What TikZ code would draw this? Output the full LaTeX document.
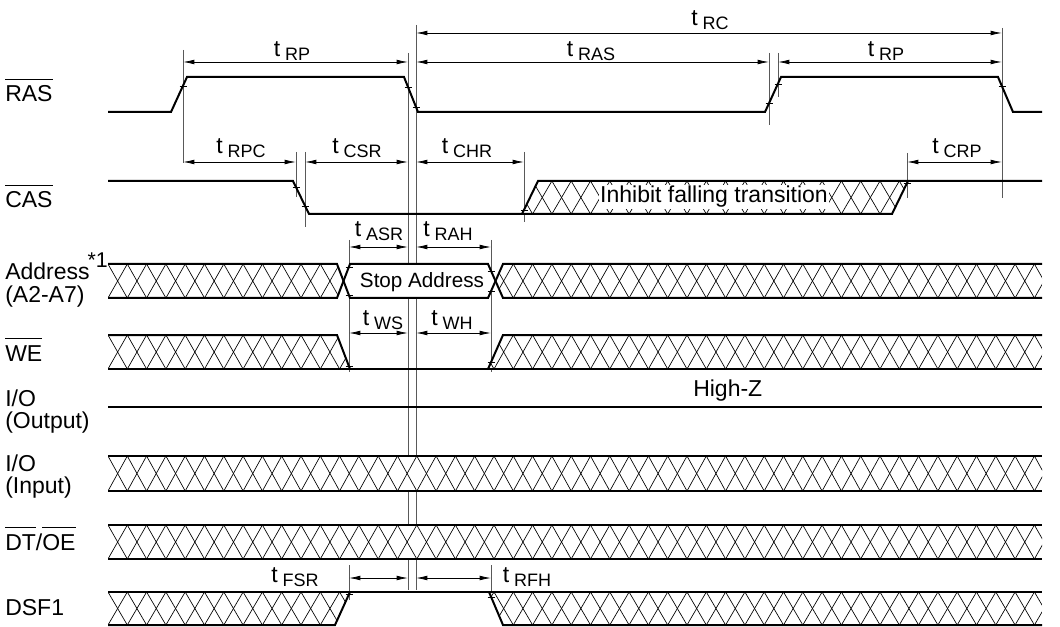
\documentclass[tikz,border=0pt]{standalone}
\usepackage{fontspec}
\setmainfont{Liberation Sans}
\usetikzlibrary{arrows.meta}
\newcommand{\tsub}[1]{t\hspace{3.5pt}\raisebox{-3pt}{\fontsize{13.5pt}{14pt}\selectfont #1}}
\newcommand{\ovl}[1]{\vbox{\hrule height 0.9pt\kern 4.5pt\hbox{#1}}}
\newcommand{\hatchband}[3]{%
  \fill[white] #1;
  \begin{scope}
    \clip #1;
    \foreach \k in {0,...,48}{
      \draw[hatchln] ({108+\k*19.3},#2) -- ({108+(\k+1)*19.3},#3);
      \draw[hatchln] ({108+\k*19.3},#3) -- ({108+(\k+1)*19.3},#2);
    }
  \end{scope}}
\newcommand{\tk}[2]{\draw[tickln] ({#1-3.5},#2) -- ({#1+3.5},#2);}
\begin{document}
\begin{tikzpicture}[x=0.75pt,y=-0.75pt,
  font=\fontsize{17.25pt}{20pt}\selectfont,
  wave/.style={line width=1.5pt, line join=miter, line cap=butt},
  hatchln/.style={line width=0.5pt},
  tl/.style={line width=0.7pt, black!65},
  tickln/.style={line width=0.6pt},
  dim/.style={line width=0.6pt, {Latex[length=8.5pt,width=3.5pt]}-{Latex[length=8.5pt,width=3.5pt]}},
  sig/.style={anchor=base west, inner sep=0pt},
  lbl/.style={inner sep=0pt}]
\useasboundingbox (0,0) rectangle (1060,627);

% ---- timing reference lines
\draw[tl] (183,50) -- (183,163);
\draw[tl] (408,53) -- (408,590);
\draw[tl] (416,25) -- (416,590);
\draw[tl] (769,53) -- (769,125);
\draw[tl] (778,53) -- (778,97);
\draw[tl] (1002,28) -- (1002,198);
\draw[tl] (296,152) -- (296,197);
\draw[tl] (305,152) -- (305,227);
\draw[tl] (524,152) -- (524,222);
\draw[tl] (907,153) -- (907,198);
\draw[tl] (349,240) -- (349,372);
\draw[tl] (491,240) -- (491,372);
\draw[tl] (349,565) -- (349,600);
\draw[tl] (491,565) -- (491,600);

% ---- signal names
\node[sig] (nRAS) at (5,102) {\ovl{RAS}};
\node[sig] (nCAS) at (5,208) {\ovl{CAS}};
\node[sig] (nAddr) at (5,280) {Address\hspace{-1.5pt}\raisebox{9.5pt}{\fontsize{16pt}{16pt}\selectfont *1}};
\node[sig] (nAddr2) at (5,302) {(A2-A7)};
\node[sig] (nWE) at (5,361) {\ovl{WE}};
\node[sig] (nIO1) at (5,406) {I/O};
\node[sig] (nIO1b) at (5,428) {(Output)};
\node[sig] (nIO2) at (5,471) {I/O};
\node[sig] (nIO2b) at (5,493) {(Input)};
\node[sig] (nDT) at (5,550) {\ovl{DT}/\ovl{OE}};
\node[sig] (nDSF) at (5,615) {DSF1};

% ---- RAS
\draw[wave] (108,112) -- (171,112) -- (187,77) -- (404,77) -- (418,112) -- (765,112) -- (781,77) -- (998,77) -- (1013,112) -- (1042,112);

% ---- CAS
\hatchband{(522,214) -- (538,181) -- (908,181) -- (892,214) -- cycle}{181}{214}
\draw[wave] (108,181) -- (293,181) -- (309,214) -- (892,214) -- (908,181) -- (1042,181);
\draw[wave] (522,214) -- (538,181) -- (908,181);
\node[fill=white, inner sep=1pt] (inh) at (714,197) {Inhibit falling transition};

% ---- Address
\hatchband{(108,264) -- (337,264) -- (343.5,281) -- (337,298) -- (108,298) -- cycle}{264}{298}
\hatchband{(495.5,281) -- (503,264) -- (1042,264) -- (1042,298) -- (503,298) -- cycle}{264}{298}
\fill[white] (343.5,281) -- (350,264) -- (488,264) -- (495.5,281) -- (488,298) -- (350,298) -- cycle;
\draw[wave] (108,264) -- (337,264) -- (350,298) -- (488,298) -- (503,264) -- (1042,264);
\draw[wave] (108,298) -- (337,298) -- (350,264) -- (488,264) -- (503,298) -- (1042,298);
\node[lbl, font=\fontsize{15.5pt}{17pt}\selectfont] (stop) at (422,282) {Stop Address};

% ---- WE
\hatchband{(108,335) -- (337,335) -- (350,369) -- (108,369) -- cycle}{335}{369}
\hatchband{(488,369) -- (503,335) -- (1042,335) -- (1042,369) -- cycle}{335}{369}
\draw[wave] (108,335) -- (337,335) -- (350,369);
\draw[wave] (108,369) -- (1042,369);
\draw[wave] (488,369) -- (503,335) -- (1042,335);

% ---- I/O output
\draw[wave] (108,407) -- (1042,407);
\node[sig] (hz) at (693,396) {High-Z};

% ---- I/O input
\hatchband{(108,456) rectangle (1042,491)}{456}{491}
\draw[wave] (108,456) -- (1042,456);
\draw[wave] (108,491) -- (1042,491);

% ---- DT/OE
\hatchband{(108,525) rectangle (1042,559)}{525}{559}
\draw[wave] (108,525) -- (1042,525);
\draw[wave] (108,559) -- (1042,559);

% ---- DSF1
\hatchband{(108,592) -- (350,592) -- (335,625) -- (108,625) -- cycle}{592}{625}
\hatchband{(489,592) -- (1042,592) -- (1042,625) -- (503,625) -- cycle}{592}{625}
\draw[wave] (108,592) -- (1042,592);
\draw[wave] (108,625) -- (335,625) -- (350,592);
\draw[wave] (489,592) -- (503,625) -- (1042,625);

% ---- ticks
\tk{183}{86} \tk{408}{87} \tk{416}{107} \tk{769}{103} \tk{778}{84} \tk{1002}{86}
\tk{296}{187} \tk{305}{206} \tk{524}{210} \tk{907}{183}
\tk{349}{267} \tk{349}{295} \tk{491}{271} \tk{491}{291}
\tk{349}{366} \tk{491}{362}
\tk{349}{594} \tk{491}{597}

% ---- dimension arrows
\draw[dim] (416,33) -- (1002,33);
\draw[dim] (183,62) -- (408,62);
\draw[dim] (416,62) -- (769,62);
\draw[dim] (778,62) -- (1002,62);
\draw[dim] (183,162) -- (296,162);
\draw[dim] (305,162) -- (408,162);
\draw[dim] (416,162) -- (524,162);
\draw[dim] (907,162) -- (1002,162);
\draw[dim] (349,247) -- (408,247);
\draw[dim] (416,247) -- (491,247);
\draw[dim] (349,333) -- (408,333);
\draw[dim] (416,333) -- (491,333);
\draw[dim] (349,578) -- (408,578);
\draw[dim] (416,578) -- (491,578);

% ---- timing labels
\node[lbl] (lRC) at (710,20) {\tsub{RC}};
\node[lbl] (lRP1) at (292,51) {\tsub{RP}};
\node[lbl] (lRAS) at (591,51) {\tsub{RAS}};
\node[lbl] (lRP2) at (886,51) {\tsub{RP}};
\node[lbl] (lRPC) at (241,148) {\tsub{RPC}};
\node[lbl] (lCSR) at (357,148) {\tsub{CSR}};
\node[lbl] (lCHR) at (467,148) {\tsub{CHR}};
\node[lbl] (lCRP) at (957,148) {\tsub{CRP}};
\node[lbl] (lASR) at (379,231) {\tsub{ASR}};
\node[lbl] (lRAH) at (448,231) {\tsub{RAH}};
\node[lbl] (lWS) at (383,320) {\tsub{WS}};
\node[lbl] (lWH) at (452,320) {\tsub{WH}};
\node[lbl] (lFSR) at (295,577) {\tsub{FSR}};
\node[lbl] (lRFH) at (527,577) {\tsub{RFH}};
\end{tikzpicture}
\end{document}
